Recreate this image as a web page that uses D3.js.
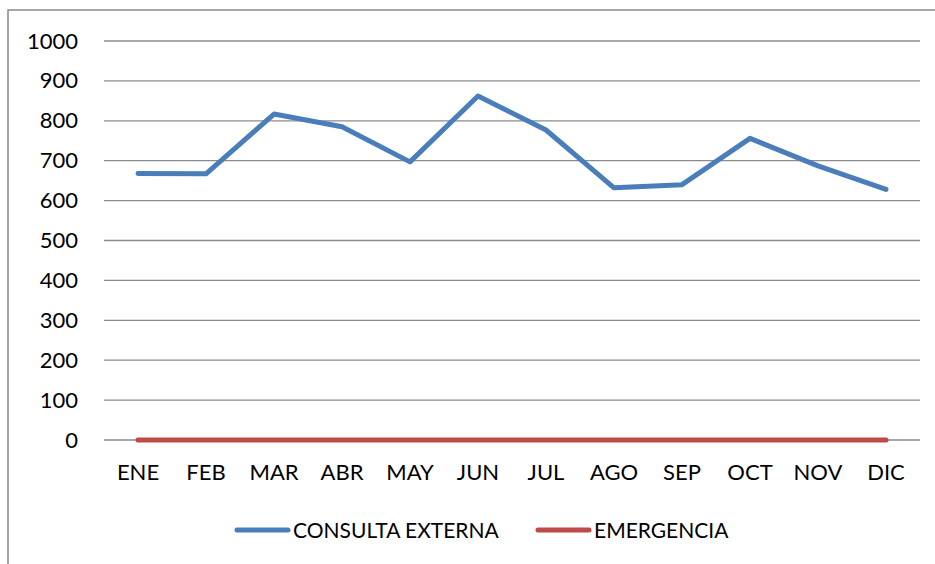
<!DOCTYPE html>
<html>
<head>
<meta charset="utf-8">
<script src="https://cdn.jsdelivr.net/npm/d3@7"></script>
<style>
  body { margin: 0; background: #fff; }
  text { font-family: Lato, "Open Sans", sans-serif; fill: #000; }
</style>
</head>
<body>
<div id="chart-container"></div>
<script>
// data
const months = ['ENE', 'FEB', 'MAR', 'ABR', 'MAY', 'JUN', 'JUL', 'AGO', 'SEP', 'OCT', 'NOV', 'DIC'];
const consultaExterna = [668, 667, 817, 785, 697, 862, 777, 632, 640, 756, 687, 628];
const emergencia = [0, 0, 0, 0, 0, 0, 0, 0, 0, 0, 0, 0];
const yTicks = [0, 100, 200, 300, 400, 500, 600, 700, 800, 900, 1000];
const seriesNames = ['CONSULTA EXTERNA', 'EMERGENCIA'];
const seriesColors = ['#4A7EBB', '#BE4B48'];

const W = 935;
const H = 564;
const margin = {top: 41, right: 15, bottom: 124, left: 104};
const width = W - margin.left - margin.right;
const height = H - margin.top - margin.bottom;

const svg = d3.select('#chart-container')
    .append('svg')
    .attr('width', W)
    .attr('height', H);

// chart frame (only left and top edges are visible in the crop)
svg.append('path')
    .attr('d', 'M8,564 V10 H935')
    .attr('fill', 'none')
    .attr('stroke', '#898989')
    .attr('stroke-width', 1.5);

const g = svg.append('g')
    .attr('transform', `translate(${margin.left}, ${margin.top})`);

const x = d3.scaleBand()
    .domain(months)
    .range([0, width]);

const y = d3.scaleLinear()
    .domain([0, 1000])
    .range([height, 0]);

// gridlines
g.append('g')
    .selectAll('line')
    .data(yTicks)
    .join('line')
    .attr('x1', 0)
    .attr('x2', width)
    .attr('y1', (d) => y(d))
    .attr('y2', (d) => y(d))
    .attr('stroke', '#8c8c8c')
    .attr('stroke-width', 1.3);

// y axis labels
const yAxis = g.append('g')
    .call(d3.axisLeft(y).tickValues(yTicks).tickFormat(d3.format('d'))
        .tickSize(0).tickPadding(26));
yAxis.select('.domain').remove();
yAxis.selectAll('text')
    .attr('font-size', '22px')
    .attr('font-family', 'Lato, sans-serif')
    .attr('fill', '#000');

// x axis labels
const xAxis = g.append('g')
    .attr('transform', `translate(0, ${height})`)
    .call(d3.axisBottom(x).tickSize(0).tickPadding(24));
xAxis.select('.domain').remove();
xAxis.selectAll('text')
    .attr('font-size', '22px')
    .attr('font-family', 'Lato, sans-serif')
    .attr('fill', '#000');

const line = d3.line()
    .x((d, i) => x(months[i]) + x.bandwidth() / 2)
    .y((d) => y(d));

[consultaExterna, emergencia].forEach(function(series, i) {
  g.append('path')
      .datum(series)
      .attr('d', line)
      .attr('fill', 'none')
      .attr('stroke', seriesColors[i])
      .attr('stroke-width', 5)
      .attr('stroke-linejoin', 'round')
      .attr('stroke-linecap', 'round');
});

// legend
const legendX = [237, 538];
const legend = svg.append('g')
    .selectAll('g')
    .data(seriesNames)
    .join('g')
    .attr('transform', (d, i) => `translate(${legendX[i]}, 530)`);
legend.append('line')
    .attr('x1', 0)
    .attr('x2', 51)
    .attr('stroke', (d, i) => seriesColors[i])
    .attr('stroke-width', 5)
    .attr('stroke-linecap', 'round');
legend.append('text')
    .attr('x', 56)
    .attr('y', 8)
    .attr('font-size', '21px')
    .text((d) => d);
</script>
</body>
</html>
